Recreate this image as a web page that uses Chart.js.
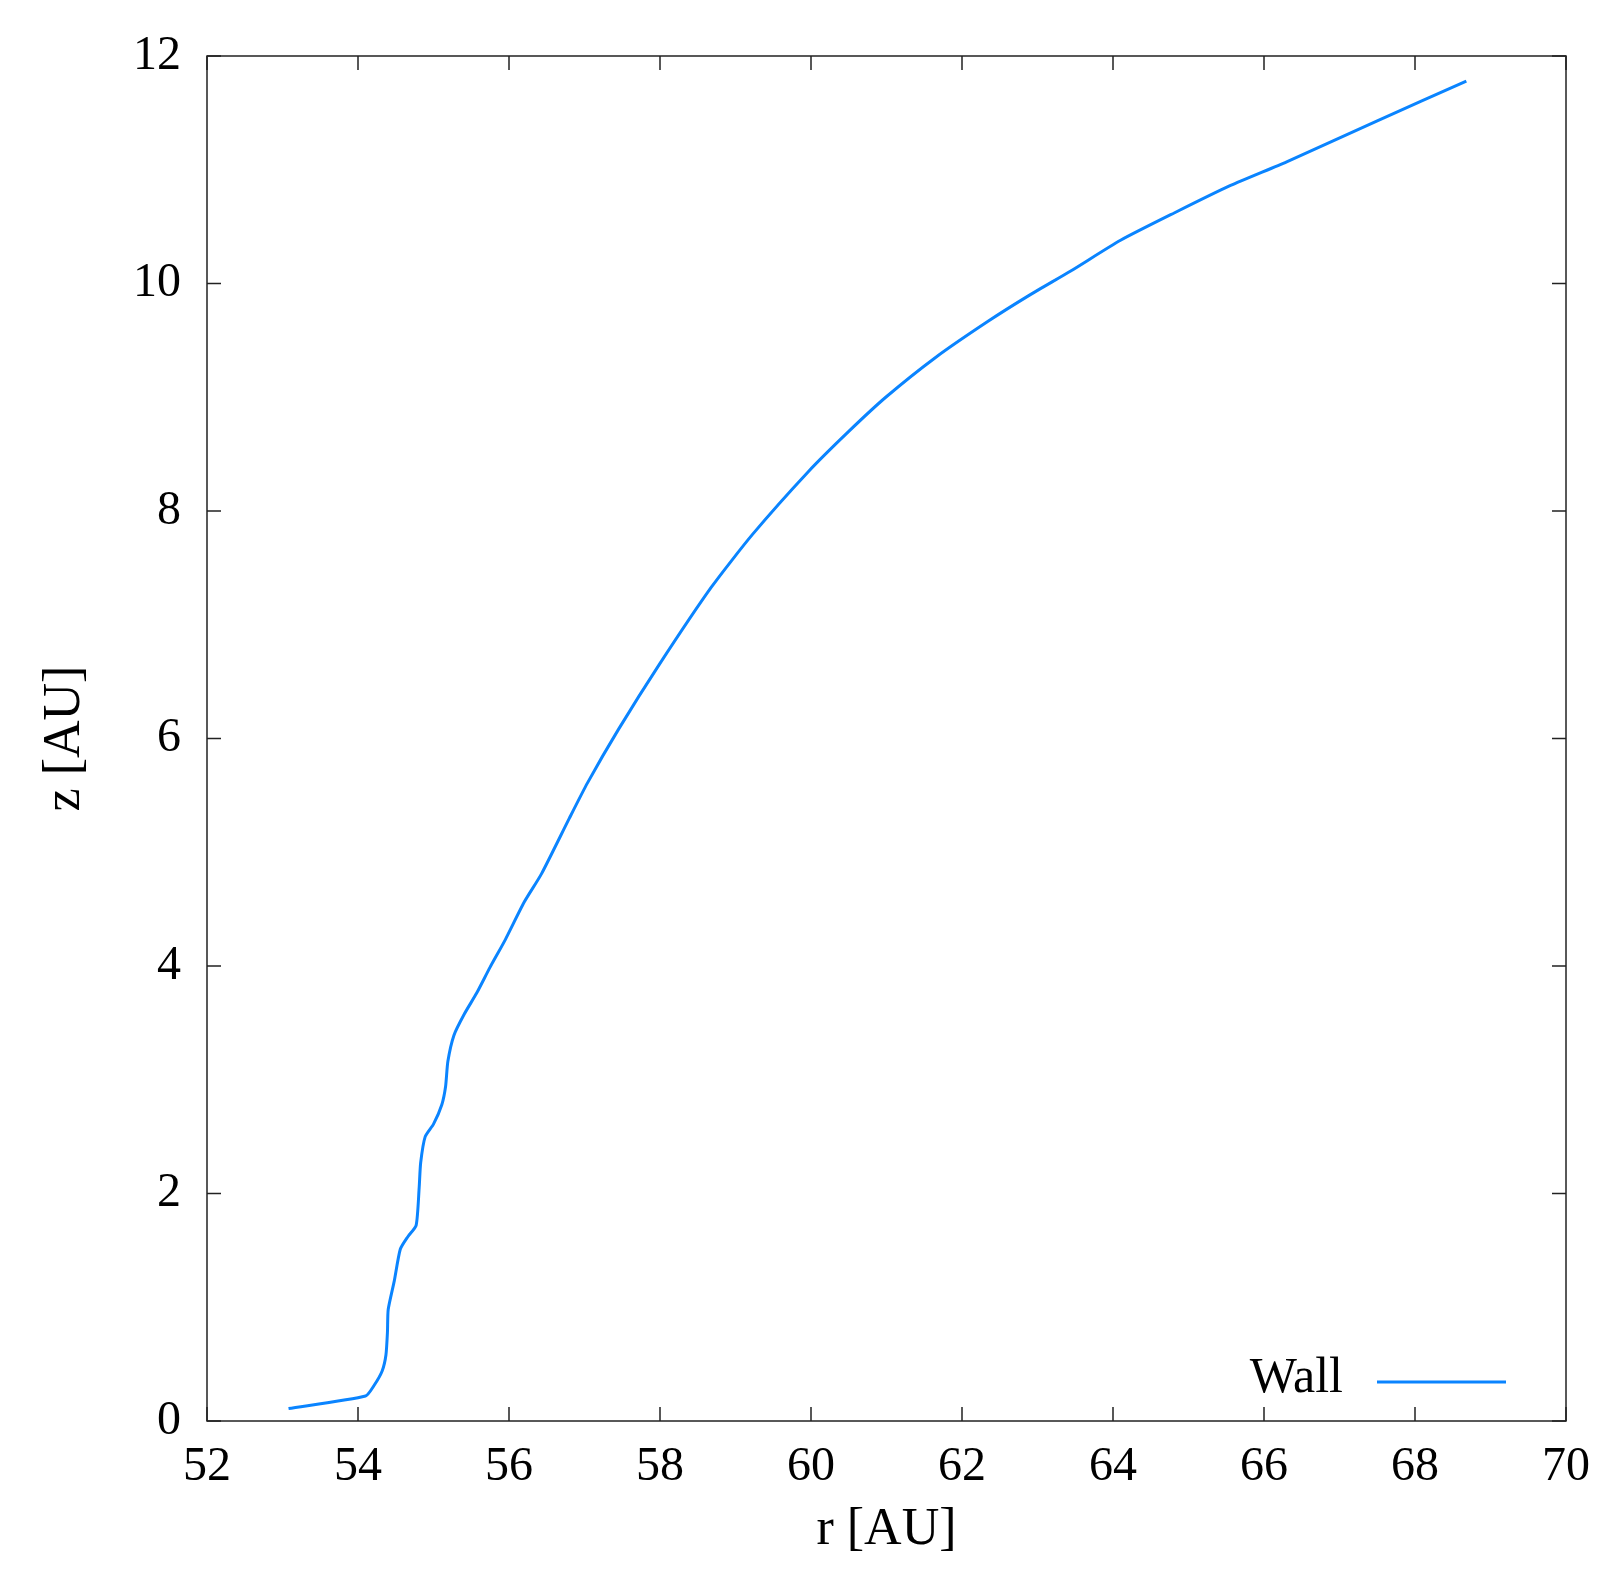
<!DOCTYPE html>
<html>
<head>
<meta charset="utf-8">
<script src="https://cdn.jsdelivr.net/npm/chart.js@4"></script>
<style>
  body { margin: 0; background: #fff; }
  #wrap { width: 1612px; height: 1592px; }
</style>
</head>
<body>
<div id="wrap"><canvas id="c"></canvas></div>
<script>
'use strict';
let rValues = [53.08, 54.10, 54.21, 54.32, 54.37, 54.39, 54.40, 54.48, 54.56, 54.66, 54.77, 54.81, 54.83, 54.89, 55.00, 55.11, 55.16, 55.19, 55.27, 55.41, 55.57, 55.75, 55.95, 56.20, 56.43, 56.80, 57.04, 57.45, 58.00, 58.68, 59.22, 59.97, 60.50, 60.99, 61.65, 62.35, 62.90, 63.44, 64.10, 64.81, 65.55, 66.30, 67.50, 68.68];
let zValues = [0.11, 0.22, 0.31, 0.44, 0.58, 0.78, 0.98, 1.23, 1.51, 1.62, 1.72, 2.05, 2.27, 2.50, 2.61, 2.78, 2.94, 3.16, 3.39, 3.58, 3.76, 3.99, 4.23, 4.56, 4.81, 5.30, 5.61, 6.08, 6.66, 7.33, 7.79, 8.35, 8.70, 9.00, 9.35, 9.67, 9.90, 10.11, 10.38, 10.62, 10.86, 11.07, 11.43, 11.78];
let seriesName = 'Wall';
let lineColor = '#0a84ff';
let font = "'Liberation Serif', 'DejaVu Serif', serif";

let points = [];
for (let i = 0; i < rValues.length; i++) {
    points.push({x: rValues[i], y: zValues[i]});
}

let frame = {
    id: 'frame',
    afterDraw(chart) {
        let ctx = chart.ctx;
        let a = chart.chartArea;
        let xs = chart.scales.x;
        let ys = chart.scales.y;
        ctx.save();
        ctx.strokeStyle = '#222';
        ctx.lineWidth = 1.5;
        ctx.strokeRect(a.left, a.top, a.right - a.left, a.bottom - a.top);
        let len = 14;
        ctx.beginPath();
        for (let v = 52; v <= 70; v += 2) {
            let px = xs.getPixelForValue(v);
            ctx.moveTo(px, a.bottom); ctx.lineTo(px, a.bottom - len);
            ctx.moveTo(px, a.top); ctx.lineTo(px, a.top + len);
        }
        for (let v = 0; v <= 12; v += 2) {
            let py = ys.getPixelForValue(v);
            ctx.moveTo(a.left, py); ctx.lineTo(a.left + len, py);
            ctx.moveTo(a.right, py); ctx.lineTo(a.right - len, py);
        }
        ctx.stroke();
        // legend
        ctx.fillStyle = '#000';
        ctx.font = '50px ' + font;
        ctx.textAlign = 'right';
        ctx.textBaseline = 'middle';
        ctx.fillText(seriesName, a.right - 223, a.bottom - 42);
        ctx.strokeStyle = lineColor;
        ctx.lineWidth = 3;
        ctx.beginPath();
        ctx.moveTo(a.right - 189, a.bottom - 39);
        ctx.lineTo(a.right - 60, a.bottom - 39);
        ctx.stroke();
        ctx.restore();
    }
};

new Chart(document.getElementById('c'), {
    type: 'scatter',
    data: {
        datasets: [{
            label: seriesName,
            data: points,
            showLine: true,
            borderColor: lineColor,
            borderWidth: 3,
            pointRadius: 0,
            tension: 0.2
        }]
    },
    options: {
        responsive: true,
        maintainAspectRatio: false,
        animation: false,
        layout: { padding: { top: 56, right: 46, left: 30, bottom: 26 } },
        plugins: { legend: { display: false }, tooltip: { enabled: false } },
        scales: {
            x: {
                min: 52, max: 70,
                grid: { display: false },
                border: { display: false },
                ticks: { stepSize: 2, color: '#000', font: { family: font, size: 48 }, padding: 10, maxRotation: 0 },
                title: { display: true, text: 'r [AU]', color: '#000', font: { family: font, size: 52 }, padding: { top: 4 } },
                afterFit(s) { s.height = 145; }
            },
            y: {
                min: 0, max: 12,
                grid: { display: false },
                border: { display: false },
                ticks: { stepSize: 2, color: '#000', font: { family: font, size: 48 }, padding: 18 },
                title: { display: true, text: 'z [AU]', color: '#000', font: { family: font, size: 52 }, padding: { bottom: 10 } },
                afterFit(s) { s.width = 177; }
            }
        }
    },
    plugins: [frame]
});
</script>
</body>
</html>
